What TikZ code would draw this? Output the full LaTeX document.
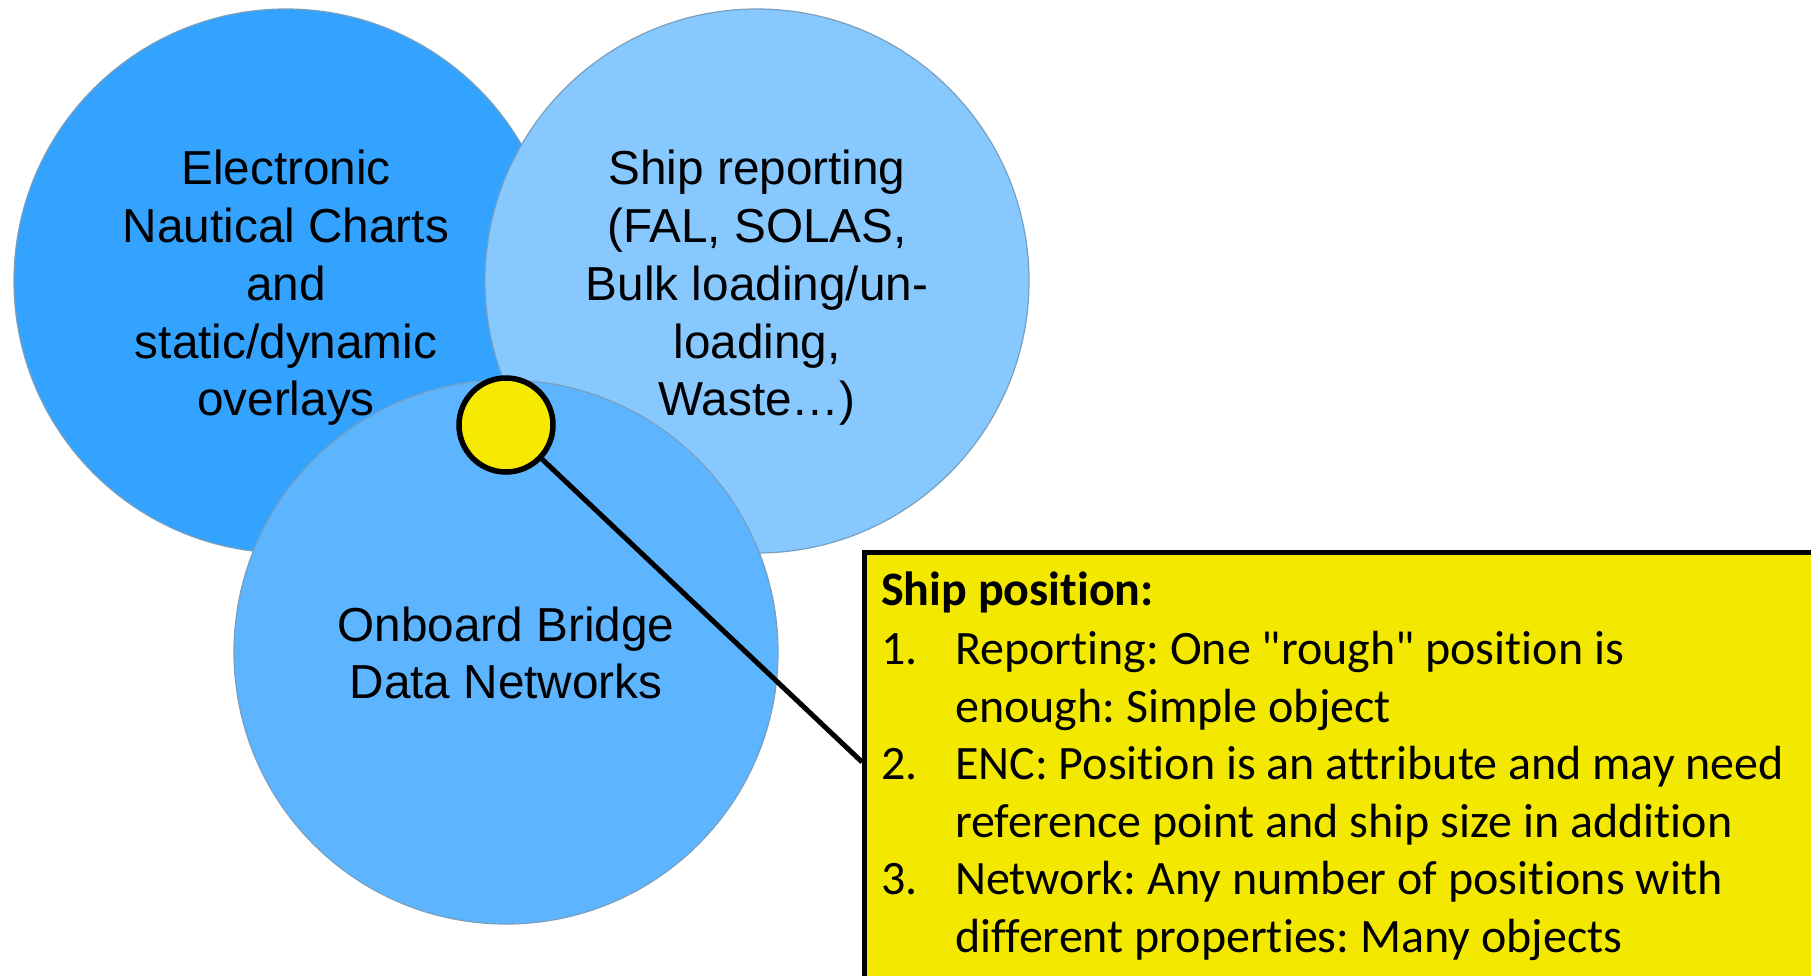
\documentclass[tikz,border=0pt]{standalone}
\usepackage{fontspec}
\setmainfont{Liberation Sans}
\newfontfamily\calfont[RawFeature=-liga]{Carlito}
\frenchspacing
\begin{document}
\begin{tikzpicture}[x=1pt,y=-1pt,
  venn/.style={circle,draw=rimgrey,line width=1.2pt,minimum size=544pt,inner sep=0pt},
  circtext/.style={align=center,font=\fontsize{47.7}{57.7}\selectfont,text=black},
  boxtext/.style={align=left,font=\calfont\fontsize{48}{57.5}\selectfont,text=black,inner sep=0pt}]
\definecolor{encblue}{RGB}{51,163,255}
\definecolor{repblue}{RGB}{135,200,255}
\definecolor{netblue}{RGB}{93,180,255}
\definecolor{rimgrey}{RGB}{120,160,190}
\definecolor{marker}{RGB}{245,234,0}
\definecolor{notefill}{RGB}{243,233,0}
\useasboundingbox (0,0) rectangle (1811,975);
\clip (0,0) rectangle (1811,975);
\fill[white] (0,0) rectangle (1811,975);
% the three overlapping domains
\node[venn,fill=encblue] (enc) at (286,281) {};
\node[venn,fill=repblue] (rep) at (757,281) {};
\node[venn,fill=netblue] (net) at (506,652) {};
\node[circtext] (enctext) at (286,288) {Electronic\\Nautical Charts\\and\\static/dynamic\\overlays};
\node[circtext] (reptext) at (757,288) {Ship reporting\\(FAL, SOLAS,\\Bulk loading/un-\\loading,\\Waste\ldots)};
\node[circtext] (nettext) at (506,653) {Onboard Bridge\\Data Networks};
% callout box
\node[draw=black,line width=5pt,fill=notefill,rectangle,anchor=north west,
      minimum width=1000pt,minimum height=480pt,inner sep=0pt] (note) at (862,550) {};
\path (note.north west) ++(0,212) coordinate (tip);
\node[circle,draw=black,line width=5.5pt,fill=marker,minimum size=94pt,inner sep=0pt] (dot) at (506,425) {};
\draw[line width=5pt] (dot) -- (tip);
\node[boxtext,anchor=base west] (title) at (881,605) {\bfseries Ship position:};
\node[boxtext,anchor=north west] (items) at ([yshift=-26pt]title.base west) {%
\makebox[74pt][l]{1.}Reporting: One "rough" position is\\
\hspace*{74pt}enough: Simple object\\
\makebox[74pt][l]{2.}ENC: Position is an attribute and may need\\
\hspace*{74pt}reference point and ship size in addition\\
\makebox[74pt][l]{3.}Network: Any number of positions with\\
\hspace*{74pt}different properties: Many objects};
\end{tikzpicture}
\end{document}
